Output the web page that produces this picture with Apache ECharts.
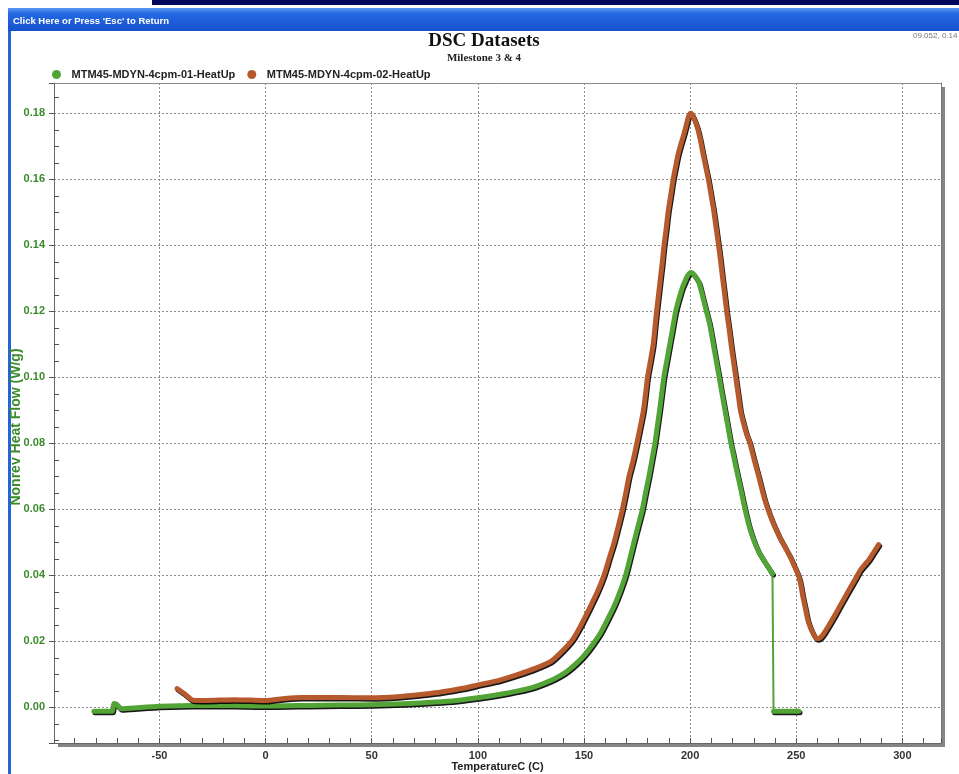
<!DOCTYPE html>
<html><head><meta charset="utf-8">
<script src="https://cdn.jsdelivr.net/npm/echarts@6/dist/echarts.min.js"></script>
<style>html,body{margin:0;padding:0;background:#fff;overflow:hidden}#c{width:959px;height:774px}</style>
</head><body><div id="c"></div>
<script>
// ---- Data ----
const seriesNames = ['MTM45-MDYN-4cpm-01-HeatUp', 'MTM45-MDYN-4cpm-02-HeatUp'];

const greenTemp = [-80.9,-76,-72.3,-71.5,-70.2,-68,-62,-56,-50,-40,-30,-20,-10,0,10,20,35,50,65,80,90,100,110,119,127,134.6,139,142.5,146,150,154,157.9,161,164.2,166.9,169.6,171.6,173.5,175.5,177.5,179,180.6,182,183.4,184.5,185.6,186.6,187.6,189,190.4,191.8,193.2,194.4,195.5,196.5,197.5,198.3,199,199.8,200.5,201.5,202.5,203.4,204.2,205.4,206.6,207.8,209,210.2,211.3,212.5,213.7,214.7,215.6,217,218.1,219.2,220.4,221.5,222.7,223.9,225.2,226.6,228,229.5,231,232.4,233.7,235.1,236.5,237.7,238.8];
const greenVal  = [-0.0012,-0.0012,-0.0012,0.0012,0.0009,-0.0004,-0.0002,0.0001,0.0003,0.0005,0.0006,0.0006,0.0005,0.0004,0.0005,0.0006,0.0007,0.0008,0.0011,0.0016,0.0021,0.0029,0.0039,0.0050,0.0063,0.0082,0.0097,0.0112,0.0131,0.0157,0.0190,0.0227,0.0265,0.0307,0.0350,0.0400,0.0450,0.0500,0.0550,0.0600,0.0650,0.0700,0.0750,0.0800,0.0850,0.0900,0.0950,0.1000,0.1050,0.1100,0.1150,0.1200,0.1230,0.1255,0.1275,0.1290,0.1302,0.1310,0.1316,0.1318,0.1314,0.1305,0.1296,0.1287,0.1258,0.1227,0.1197,0.1167,0.1127,0.1086,0.1043,0.1000,0.0962,0.0930,0.0880,0.0840,0.0800,0.0765,0.0730,0.0695,0.0660,0.0620,0.0580,0.0545,0.0515,0.0490,0.0470,0.0456,0.0442,0.0428,0.0416,0.0405];
const greenDropTemp = [238.8, 239.3];
const greenDropVal  = [0.0405, -0.0012];
const greenTailTemp = [239.3, 245, 251.3];
const greenTailVal  = [-0.0012, -0.0012, -0.0012];

const brownTemp = [-41.7,-38,-34.3,-30,-22,-15,-7,0,9,17,25,35,50,62,72,80,88,95,100,110,119,127,134.6,140,144.7,148.4,153.1,156.3,159.4,161.8,164.2,166.2,168.1,169.7,171.2,173.2,174.9,176.5,178,179,179.9,181.3,182.6,183.4,184.2,185.1,186,186.9,187.7,188.7,189.6,190.8,192,193.2,194.3,195.8,197.2,198.2,199,199.7,200.3,201,201.8,202.6,203.5,204.8,206,207.3,208.6,209.8,211,212.2,213.4,214.4,215.3,216.3,217.2,218.4,219.5,220.5,221.5,222.6,223.7,225,226.5,228.2,230.2,232.3,233.8,235.2,237.5,239.9,242.2,244.6,247,249.2,250.7,251.6,252.4,253.1,254.3,255.4,256.6,257.8,259,260.1,261.5,263.2,265.5,267.9,271,274.1,277.2,280.3,282.2,284.2,286.5,288.8];
const brownVal  = [0.0057,0.0040,0.0022,0.0021,0.0022,0.0023,0.0022,0.0021,0.0027,0.0030,0.0030,0.0030,0.0029,0.0032,0.0038,0.0044,0.0052,0.0060,0.0068,0.0082,0.0100,0.0118,0.0140,0.0172,0.0206,0.0247,0.0307,0.0350,0.0400,0.0450,0.0500,0.0550,0.0600,0.0650,0.0700,0.0750,0.0800,0.0850,0.0900,0.0950,0.1000,0.1050,0.1100,0.1150,0.1200,0.1250,0.1300,0.1350,0.1400,0.1450,0.1500,0.1550,0.1600,0.1640,0.1675,0.1710,0.1740,0.1765,0.1785,0.1797,0.1800,0.1796,0.1785,0.1772,0.1755,0.1720,0.1680,0.1640,0.1600,0.1555,0.1510,0.1455,0.1400,0.1350,0.1300,0.1250,0.1200,0.1145,0.1090,0.1045,0.1000,0.0950,0.0900,0.0865,0.0830,0.0800,0.0750,0.0700,0.0662,0.0628,0.0585,0.0547,0.0515,0.0487,0.0458,0.0427,0.0405,0.0387,0.0362,0.0336,0.0300,0.0266,0.0243,0.0226,0.0213,0.0208,0.0212,0.0226,0.0250,0.0276,0.0312,0.0347,0.0382,0.0417,0.0432,0.0447,0.0470,0.0493];

const xRange = [-99.7, 318.2];
const yRange = [-0.0108, 0.1892];

// ---- Styles ----
const GREEN = '#53a437', BROWN = '#b6592c', LABEL_GREEN = '#3b8b2d';
const SANS = 'Liberation Sans';
const pairs = (a, b) => a.map((t, i) => [t, b[i]]);
const shadow = {shadowColor: 'rgba(0,0,0,0.9)', shadowOffsetX: 1, shadowOffsetY: 1.5, shadowBlur: 0};
const frameAxis = {axisTick: {show: false}, axisLabel: {show: false}, splitLine: {show: false}, minorTick: {show: false}};

const chart = echarts.init(document.getElementById('c'), null, {renderer: 'canvas'});
chart.setOption({
  animation: false,
  backgroundColor: '#fff',
  graphic: [
    {type: 'rect', shape: {x: 152, y: 0, width: 807, height: 5}, style: {fill: '#05075c'}, silent: true},
    {type: 'rect', shape: {x: 8, y: 8, width: 951, height: 23}, style: {fill: new echarts.graphic.LinearGradient(0, 0, 0, 1, [
      {offset: 0, color: '#5a95f2'}, {offset: 0.25, color: '#2468e2'}, {offset: 1, color: '#1652cc'}])}, silent: true},
    {type: 'rect', shape: {x: 8, y: 31, width: 3, height: 743}, style: {fill: '#2463d8'}, silent: true},
    {type: 'text', x: 13, y: 21, style: {text: "Click Here or Press 'Esc' to Return", fill: '#fff', font: 'bold 9.5px "Liberation Sans"', verticalAlign: 'middle'}, silent: true},
    {type: 'text', x: 484, y: 41, style: {text: 'DSC Datasets', fill: '#111', font: 'bold 19px "Liberation Serif"', align: 'center', verticalAlign: 'middle'}, silent: true},
    {type: 'text', x: 484, y: 58, style: {text: 'Milestone 3 & 4', fill: '#222', font: 'bold 11px "Liberation Serif"', align: 'center', verticalAlign: 'middle'}, silent: true},
    {type: 'text', x: 913, y: 36, style: {text: '09.052, 0.14', fill: '#777', font: '8px "Liberation Sans"', align: 'left', verticalAlign: 'middle'}, silent: true}
  ],
  legend: {
    data: seriesNames, left: 47, top: 64, itemGap: 12, itemWidth: 20, itemHeight: 9, icon: 'circle',
    textStyle: {fontFamily: SANS, fontWeight: 'bold', fontSize: 11, color: '#222'}
  },
  grid: {
    left: 54, right: 18, top: 83, bottom: 31, containLabel: false, outerBoundsMode: 'none', show: true,
    backgroundColor: '#fff', borderWidth: 0,
    shadowColor: '#858585', shadowOffsetX: 4, shadowOffsetY: 4, shadowBlur: 0
  },
  xAxis: [{
    type: 'value', min: xRange[0], max: xRange[1], splitNumber: 8, position: 'bottom',
    axisLine: {show: true, onZero: false, lineStyle: {color: '#666', width: 1}},
    axisTick: {show: true, inside: true, length: 5, lineStyle: {color: '#555'}},
    minorTick: {show: true, splitNumber: 5, length: 5, lineStyle: {color: '#555'}},
    axisLabel: {margin: 7, color: '#333', fontWeight: 'bold', fontSize: 11, fontFamily: SANS,
      formatter: v => (Math.abs(v / 50 - Math.round(v / 50)) < 1e-6 ? String(Math.round(v)) : '')},
    splitLine: {show: true, lineStyle: {color: '#8c8c8c', type: [2, 2], width: 1}},
    name: 'TemperatureC (C)', nameLocation: 'middle', nameGap: 18, nameMoveOverlap: false,
    nameTextStyle: {fontFamily: SANS, fontWeight: 'bold', fontSize: 11, color: '#222'}
  }, Object.assign({
    type: 'value', min: xRange[0], max: xRange[1], position: 'top',
    axisLine: {show: true, onZero: false, lineStyle: {color: '#8a8a8a', width: 1}}
  }, frameAxis)],
  yAxis: [{
    type: 'value', min: yRange[0], max: yRange[1], splitNumber: 10, position: 'left',
    axisLine: {show: true, onZero: false, lineStyle: {color: '#666', width: 1}},
    axisTick: {show: true, inside: false, length: 5, lineStyle: {color: '#555'}},
    axisLabel: {margin: 9, color: LABEL_GREEN, fontWeight: 'bold', fontSize: 11, fontFamily: SANS,
      formatter: v => (Math.abs(v / 0.02 - Math.round(v / 0.02)) < 1e-6 ? v.toFixed(2) : '')},
    splitLine: {show: true, lineStyle: {color: '#8c8c8c', type: [2, 2], width: 1}},
    name: 'Nonrev Heat Flow (W/g)', nameLocation: 'middle', nameGap: 31, nameMoveOverlap: false,
    nameTextStyle: {fontFamily: SANS, fontWeight: 'bold', fontSize: 14, color: LABEL_GREEN, padding: [0, 28, 0, 0]}
  }, {
    type: 'value', min: yRange[0], max: yRange[1], splitNumber: 10, position: 'left', offset: 0,
    axisLine: {show: false, onZero: false}, axisTick: {show: true, inside: true, length: 0.01, lineStyle: {color: 'rgba(0,0,0,0)'}},
    minorTick: {show: true, splitNumber: 4, length: 5, lineStyle: {color: '#555'}},
    axisLabel: {show: false}, splitLine: {show: false}
  }, Object.assign({
    type: 'value', min: yRange[0], max: yRange[1], position: 'right', offset: 0,
    axisLine: {show: true, onZero: false, lineStyle: {color: '#777', width: 1}}
  }, frameAxis)],
  series: [
    {name: seriesNames[0], type: 'line', color: GREEN, symbol: 'none', smooth: 0.2, yAxisIndex: 0,
     lineStyle: Object.assign({width: 5, color: GREEN, cap: 'round', join: 'round'}, shadow),
     data: pairs(greenTemp, greenVal), z: 3},
    {name: seriesNames[0], type: 'line', color: GREEN, symbol: 'none', yAxisIndex: 0,
     lineStyle: {width: 2, color: GREEN}, data: pairs(greenDropTemp, greenDropVal), z: 3},
    {name: seriesNames[0], type: 'line', color: GREEN, symbol: 'none', yAxisIndex: 0,
     lineStyle: Object.assign({width: 5, color: GREEN, cap: 'round', join: 'round'}, shadow),
     data: pairs(greenTailTemp, greenTailVal), z: 3},
    {name: seriesNames[1], type: 'line', color: BROWN, symbol: 'none', smooth: 0.2, yAxisIndex: 0,
     lineStyle: Object.assign({width: 5, color: BROWN, cap: 'round', join: 'round'}, shadow),
     data: pairs(brownTemp, brownVal), z: 3}
  ]
});
</script>
</body></html>
